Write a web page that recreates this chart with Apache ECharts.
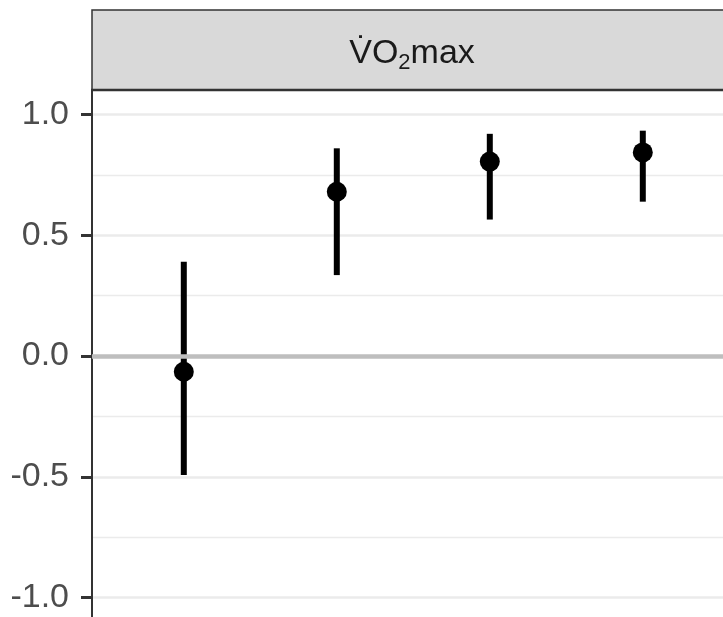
<!DOCTYPE html>
<html>
<head>
<meta charset="utf-8">
<script src="https://cdn.jsdelivr.net/npm/echarts@6/dist/echarts.min.js"></script>
<style>html,body{margin:0;padding:0;background:#fff;}#chart{width:723px;height:617px;}</style>
</head>
<body>
<div id="chart"></div>
<script>
const categories = [1, 2, 3, 4];
const estimates = [-0.065, 0.68, 0.805, 0.843];
const lower = [-0.493, 0.335, 0.565, 0.639];
const upper = [0.39, 0.86, 0.92, 0.933];
const titleMain1 = 'V\u0307O';
const titleSub = '2';
const titleMain2 = 'max';

const errData = categories.map((c, i) => [c, lower[i], upper[i]]);
const ptData = categories.map((c, i) => [c, estimates[i]]);

const FONT = '"Liberation Sans", Arial, Helvetica, sans-serif';
const MAIN_FS = 34, SUB_FS = 22;
const cv = document.createElement('canvas').getContext('2d');
function tw(t, fs) { cv.font = fs + 'px ' + FONT; return cv.measureText(t).width; }
const w1 = tw(titleMain1, MAIN_FS), w2 = tw(titleSub, SUB_FS), w3 = tw(titleMain2, MAIN_FS);
const cx = 412;
const x0 = cx - (w1 + w2 + w3) / 2;

const chart = echarts.init(document.getElementById('chart'), null, {renderer: 'canvas'});
chart.setOption({
  animation: false,
  backgroundColor: '#ffffff',
  grid: {left: 92, top: -6.25, width: 642.6, height: 724.5, containLabel: false, outerBoundsMode: 'none'},
  xAxis: {
    type: 'value', min: 0.4, max: 4.6,
    axisLine: {show: false}, axisTick: {show: false}, axisLabel: {show: false},
    splitLine: {show: false}
  },
  yAxis: {
    type: 'value', min: -1.5, max: 1.5, interval: 0.5,
    axisLine: {show: true, lineStyle: {color: '#333333', width: 2}},
    axisTick: {show: true, length: 11, lineStyle: {color: '#333333', width: 3}},
    axisLabel: {
      fontSize: 34, color: '#4D4D4D', fontFamily: FONT, margin: 23,
      formatter: v => Math.abs(v) > 1.01 ? '' : v.toFixed(1)
    },
    splitLine: {show: true, lineStyle: {color: '#EBEBEB', width: 2.5}},
    minorTick: {show: false, splitNumber: 2},
    minorSplitLine: {show: true, lineStyle: {color: '#EBEBEB', width: 1.3}}
  },
  series: [
    {
      type: 'line', data: [], z: 1, silent: true,
      markLine: {
        silent: true, symbol: 'none', label: {show: false},
        lineStyle: {color: '#BEBEBE', width: 4.5, type: 'solid', opacity: 1},
        data: [{yAxis: 0}]
      }
    },
    {
      type: 'custom', z: 2,
      encode: {x: 0, y: [1, 2]},
      data: errData,
      renderItem: function (params, api) {
        const x = api.value(0);
        const lo = api.coord([x, api.value(1)]);
        const hi = api.coord([x, api.value(2)]);
        return {type: 'line', shape: {x1: lo[0], y1: lo[1], x2: hi[0], y2: hi[1]},
                style: {stroke: '#000000', lineWidth: 6}};
      }
    },
    {
      type: 'scatter', z: 3, data: ptData, symbol: 'circle', symbolSize: 20,
      itemStyle: {color: '#000000', opacity: 1}
    }
  ],
  graphic: [
    {type: 'rect', z: 100, shape: {x: 0, y: 0, width: 723, height: 90}, style: {fill: '#ffffff'}},
    {type: 'rect', z: 101, shape: {x: 92, y: 10, width: 700, height: 80},
     style: {fill: '#D9D9D9', stroke: '#333333', lineWidth: 1.5}},
    {type: 'line', z: 102, shape: {x1: 91, y1: 90, x2: 723, y2: 90},
     style: {stroke: '#333333', lineWidth: 2.5}},
    {type: 'text', z: 103, x: x0, y: 54,
     style: {text: titleMain1, fill: '#1A1A1A', font: MAIN_FS + 'px ' + FONT, textAlign: 'left', textVerticalAlign: 'middle'}},
    {type: 'text', z: 103, x: x0 + w1, y: 63,
     style: {text: titleSub, fill: '#1A1A1A', font: SUB_FS + 'px ' + FONT, textAlign: 'left', textVerticalAlign: 'middle'}},
    {type: 'text', z: 103, x: x0 + w1 + w2, y: 54,
     style: {text: titleMain2, fill: '#1A1A1A', font: MAIN_FS + 'px ' + FONT, textAlign: 'left', textVerticalAlign: 'middle'}}
  ]
});
</script>
</body>
</html>
